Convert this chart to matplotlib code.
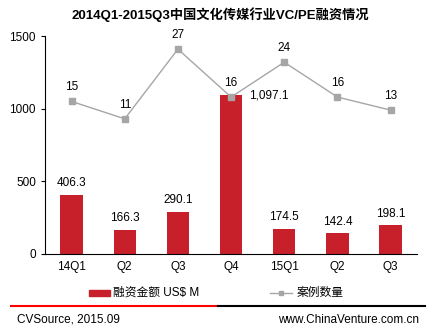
import matplotlib
matplotlib.use("Agg")
import matplotlib.pyplot as plt
from matplotlib.lines import Line2D
from matplotlib.patches import Rectangle

plt.rcParams['font.family'] = ['Liberation Sans', 'Noto Sans CJK SC', 'DejaVu Sans']

categories = ["14Q1", "Q2", "Q3", "Q4", "15Q1", "Q2", "Q3"]
amounts = [406.3, 166.3, 290.1, 1097.1, 174.5, 142.4, 198.1]
deals = [15, 11, 27, 16, 24, 16, 13]
amount_labels = ["406.3", "166.3", "290.1", "1,097.1", "174.5", "142.4", "198.1"]

red = "#C8202A"
gray = "#A6A6A6"
fs = 8.5

fig = plt.figure(figsize=(4.41, 3.31), dpi=100)
ax = fig.add_axes([0.102, 0.233, 0.844, 0.658])
x = list(range(len(categories)))
ax.bar(x, amounts, width=0.42, color=red, zorder=2)
ax.set_xlim(-0.5, len(categories) - 0.5)
ax.set_ylim(0, 1500)
ax.set_yticks([0, 500, 1000, 1500])
ax.set_xticks(x)
ax.set_xticklabels(categories)
for s in ["top", "right"]:
    ax.spines[s].set_visible(False)
ax.spines["left"].set_color("black")
ax.spines["bottom"].set_color("black")
ax.tick_params(axis="y", labelsize=fs, length=3, direction="out")
ax.tick_params(axis="x", labelsize=fs, length=0, pad=5)

for i, (v, lab) in enumerate(zip(amounts, amount_labels)):
    if v > 1000:
        ax.annotate(lab, (i, v), xytext=(13, -1), textcoords="offset points",
                    ha="left", va="center", fontsize=fs)
    else:
        ax.annotate(lab, (i, v), xytext=(0, 4), textcoords="offset points",
                    ha="center", va="bottom", fontsize=fs)

ax2 = ax.twinx()
ax2.plot(x, deals, color=gray, lw=1, marker="s", ms=3.8, mfc=gray, mec=gray, zorder=3)
ax2.set_ylim(-20, 30)
ax2.axis("off")
for i, v in enumerate(deals):
    ax2.annotate(str(v), (i, v), xytext=(0, 6), textcoords="offset points",
                 ha="center", va="bottom", fontsize=fs)

fig.text(0.5, 0.955, "2014Q1-2015Q3中国文化传媒行业VC/PE融资情况", ha="center", va="center",
         fontsize=9.5, fontweight="bold")

# legend
fig.patches.append(Rectangle((89/441, 1-296/331), 21/441, 6/331, transform=fig.transFigure,
                             color=red, figure=fig))
fig.text(113/441, 1-293/331, "融资金额 US$ M", ha="left", va="center", fontsize=fs)
fig.lines.append(Line2D([270/441, 292/441], [1-293/331, 1-293/331], transform=fig.transFigure,
                        color=gray, lw=1, figure=fig))
fig.lines.append(Line2D([281/441], [1-293/331], transform=fig.transFigure,
                        color=gray, marker="s", ms=3.5, lw=0, figure=fig))
fig.text(297/441, 1-293/331, "案例数量", ha="left", va="center", fontsize=fs)

# footer
fig.lines.append(Line2D([11/441, 218/441], [1-306/331]*2, transform=fig.transFigure,
                        color="#FF0000", lw=1.5, figure=fig))
fig.lines.append(Line2D([218/441, 425/441], [1-306/331]*2, transform=fig.transFigure,
                        color="black", lw=1.5, figure=fig))
fig.text(17/441, 1-320/331, "CVSource, 2015.09", ha="left", va="center", fontsize=fs)
fig.text(419/441, 1-320/331, "www.ChinaVenture.com.cn", ha="right", va="center", fontsize=fs)

fig.savefig("out.png", dpi=100)
